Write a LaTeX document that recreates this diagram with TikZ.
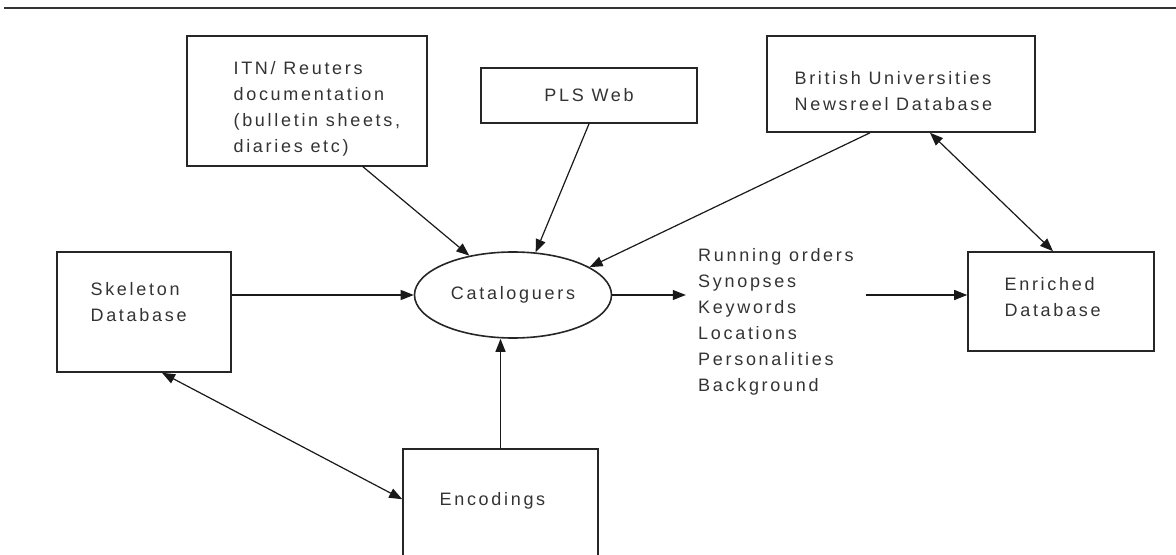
\documentclass[tikz,border=0pt]{standalone}
\usepackage{fontspec}
\setmainfont{Liberation Sans}[LetterSpace=15]
\usetikzlibrary{shapes.geometric, arrows.meta, positioning}
\newcommand{\diagfont}{\fontsize{9}{13}\selectfont}
\tikzset{
  % Boxes and texts
  box/.style={rectangle, draw=black!85, line width=0.8pt, inner sep=0pt},
  oval/.style={ellipse, draw=black!85, line width=0.8pt, inner sep=0pt, minimum width=98.5pt, minimum height=43pt, font=\diagfont, text=black!80},
  boxtext/.style={align=left, inner sep=0pt, font=\diagfont, text=black!80},
  % Connectors
  arrow/.style={-{Triangle[length=6.5pt, width=5pt]}, line width=0.6pt, draw=black!90},
  dblarrow/.style={{Triangle[length=6.5pt, width=5pt]}-{Triangle[length=6.5pt, width=5pt]}, line width=0.6pt, draw=black!90},
}

\begin{document}
\begin{tikzpicture}[x=0.5pt, y=-0.5pt]
    \useasboundingbox (0,0) rectangle (1176,555);
    % Rule at the top
    \draw[line width=1.2pt, black!80] (4,8) -- (1176,8);

    % Sources
    \node[box, minimum width=120pt, minimum height=65pt] (itn) at (307,101) {};
    \node[boxtext, right=23.5pt of itn.west, yshift=-3.75pt] (itn-text) {ITN/ Reuters\\documentation\\(bulletin sheets,\\diaries etc)};

    \node[box, minimum width=108pt, minimum height=27.5pt, font=\diagfont, text=black!80] (pls) at (589,95.5) {PLS Web};

    \node[box, minimum width=134pt, minimum height=48pt] (bund) at (901,84) {};
    \node[boxtext, right=14pt of bund.west, yshift=-3.5pt] (bund-text) {British Universities\\Newsreel Database};

    % Cataloguers
    \node[oval] (cat) at (513,295) {Cataloguers};

    % Skeleton
    \node[box, minimum width=87pt, minimum height=60pt] (skel) at (144,312) {};
    \node[boxtext, right=17pt of skel.west, yshift=5pt] (skel-text) {Skeleton\\Database};

    % What the cataloguers add
    \node[boxtext, inner xsep=6pt, right=36.75pt of cat.east, yshift=-13.5pt] (items) {Running orders\\Synopses\\Keywords\\Locations\\Personalities\\Background};

    % Enriched
    \node[box, minimum width=93pt, minimum height=49.5pt] (enr) at (1061,301.5) {};
    \node[boxtext, right=18.5pt of enr.west, yshift=2pt] (enr-text) {Enriched\\Database};

    % Encodings
    \node[box, minimum width=97.5pt, minimum height=62pt] (enc) at (500.5,511) {};
    \node[boxtext, right=18.5pt of enc.west, yshift=5pt] (enc-text) {Encodings};

    % Arrows
    \draw[arrow] (skel.east |- cat.west) -- (cat.west);
    \draw[arrow] (cat.east) -- (cat.east -| items.west);
    \draw[arrow] (items.east |- cat.east) -- (enr.west |- cat.east);
    \draw[arrow] ([xshift=28pt]itn.south) -- (cat.138);
    \draw[arrow] (pls.south) -- (cat.62);
    \draw[arrow] ([xshift=-15.5pt]bund.south) -- (cat.20);
    \draw[arrow] (enc.north) -- (enc.north |- cat.south);
    \draw[dblarrow] ([xshift=14.5pt]bund.south) -- ([xshift=-4pt]enr.north);
    \draw[dblarrow] ([xshift=9pt]skel.south) -- ([yshift=-25.5pt]enc.north west);
\end{tikzpicture}
\end{document}
